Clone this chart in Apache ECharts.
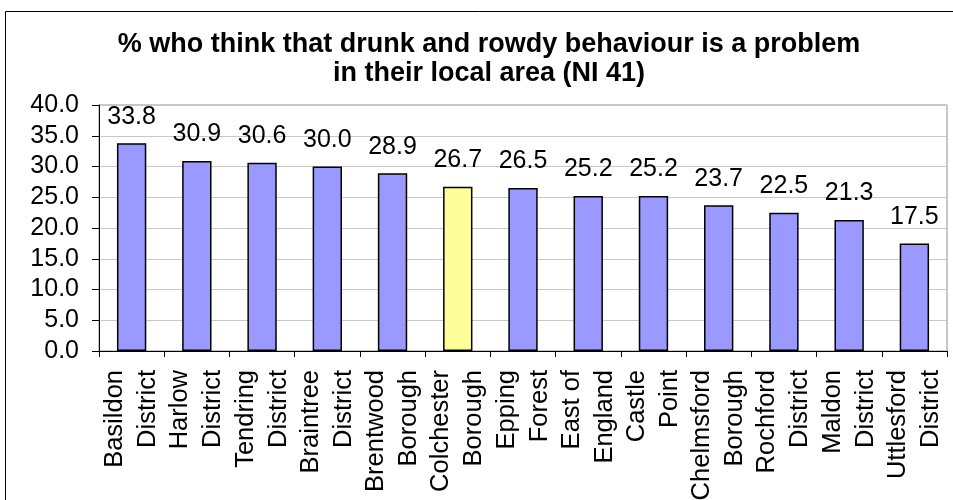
<!DOCTYPE html>
<html>
<head>
<meta charset="utf-8">
<script src="https://cdn.jsdelivr.net/npm/echarts@6/dist/echarts.min.js"></script>
<style>
  html, body { margin: 0; padding: 0; background: #fff; }
  #chart { width: 953px; height: 500px; }
</style>
</head>
<body>
<div id="chart"></div>
<script>
// Survey results by local authority area (NI 41)
const areas = [
  'Basildon\nDistrict', 'Harlow\nDistrict', 'Tendring\nDistrict', 'Braintree\nDistrict',
  'Brentwood\nBorough', 'Colchester\nBorough', 'Epping\nForest', 'East of\nEngland',
  'Castle\nPoint', 'Chelmsford\nBorough', 'Rochford\nDistrict', 'Maldon\nDistrict',
  'Uttlesford\nDistrict'
];
const percentages = [33.8, 30.9, 30.6, 30.0, 28.9, 26.7, 26.5, 25.2, 25.2, 23.7, 22.5, 21.3, 17.5];
const yTicks = { min: 0, max: 40, step: 5 };
const highlightedArea = 'Colchester\nBorough';

const chartTitle = '% who think that drunk and rowdy behaviour is a problem\nin their local area (NI 41)';

const FONT = '"Liberation Sans", Arial, sans-serif';

const chart = echarts.init(document.getElementById('chart'), null, { renderer: 'canvas' });

chart.setOption({
  backgroundColor: '#ffffff',
  animation: false,
  title: {
    text: chartTitle,
    left: 484,
    top: 25,
    textAlign: 'center',
    textStyle: {
      fontFamily: FONT,
      fontSize: 27,
      fontWeight: 'bold',
      lineHeight: 29,
      color: '#000'
    }
  },
  graphic: [{
    type: 'rect',
    shape: { x: 5.5, y: 11.5, width: 1000, height: 600 },
    style: { fill: 'none', stroke: '#000', lineWidth: 1 },
    silent: true,
    z: -1
  }],
  grid: {
    left: 99,
    right: 6,
    top: 105,
    bottom: 149,
    show: true,
    borderColor: '#909090',
    borderWidth: 1,
    containLabel: false,
    outerBoundsMode: 'none'
  },
  xAxis: {
    type: 'category',
    data: areas,
    axisLine: { lineStyle: { color: '#000', width: 1 } },
    axisTick: { show: true, alignWithLabel: false, length: 6, lineStyle: { color: '#000' } },
    axisLabel: {
      rotate: 90,
      interval: 0,
      margin: 19,
      fontFamily: FONT,
      fontSize: 25.5,
      lineHeight: 33,
      color: '#000'
    },
    splitLine: { show: false }
  },
  yAxis: {
    type: 'value',
    min: yTicks.min,
    max: yTicks.max,
    interval: yTicks.step,
    axisLine: { show: true, lineStyle: { color: '#000', width: 1 } },
    axisTick: { show: true, length: 7, lineStyle: { color: '#000' } },
    axisLabel: {
      margin: 20,
      fontFamily: FONT,
      fontSize: 25,
      color: '#000',
      formatter: v => v.toFixed(1)
    },
    splitLine: { show: true, lineStyle: { color: '#c8c8c8', width: 1 } }
  },
  series: [{
    type: 'bar',
    data: percentages,
    barWidth: '45%',
    itemStyle: {
      color: p => (p.name === highlightedArea ? '#FFFF99' : '#9999FF'),
      borderColor: '#000',
      borderWidth: 1.5
    },
    label: {
      show: true,
      position: 'top',
      distance: 14,
      fontFamily: FONT,
      fontSize: 25,
      color: '#000',
      formatter: p => p.value.toFixed(1)
    }
  }]
});
</script>
</body>
</html>
